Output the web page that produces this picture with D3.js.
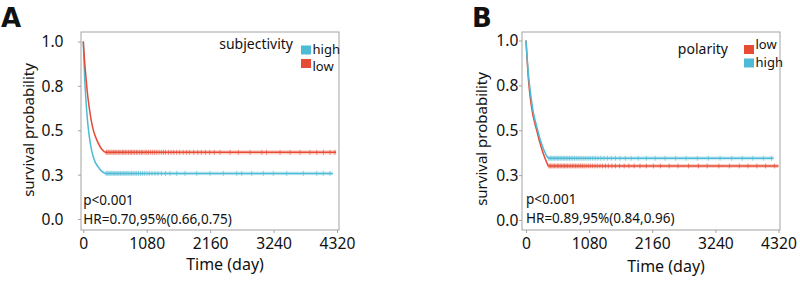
<!DOCTYPE html>
<html>
<head>
<meta charset="utf-8">
<title>Survival curves</title>
<script src="https://d3js.org/d3.v7.min.js"></script>
<style>
body { margin: 0; background: #fff; }
text { font-family: "Noto Sans", sans-serif; fill: #111; }
</style>
</head>
<body>
<script>
// shared axis values
var xTicks = [0, 1080, 2160, 3240, 4320];
var yTicks = [0, 0.25, 0.5, 0.75, 1];
var yTickLabels = ["0.0", "0.3", "0.5", "0.8", "1.0"];

// panel A : subjectivity
var timeA_high = [0, 10, 25, 45, 70, 100, 140, 190, 250, 310, 370, 4250];
var survA_high = [1, 0.9, 0.78, 0.67, 0.56, 0.47, 0.39, 0.33, 0.295, 0.27, 0.257, 0.257];
var timeA_low = [0, 20, 45, 70, 100, 130, 160, 200, 250, 310, 370, 4305];
var survA_low = [1, 0.9, 0.8, 0.71, 0.63, 0.565, 0.515, 0.47, 0.43, 0.395, 0.376, 0.376];
var censorA_high = [390, 415, 438, 460, 485, 510, 535, 558, 585, 610, 635, 660, 688, 712, 740, 765, 795, 822, 850, 880, 910, 940, 975, 1010, 1045, 1085, 1125, 1170, 1220, 1270, 1330, 1400, 1476, 1590, 1732, 1931, 2158, 2385, 2612, 2697, 2868, 3066, 3236, 3464, 3747, 3975, 4087, 4200];
var censorA_low = [395, 420, 440, 468, 490, 515, 540, 560, 590, 612, 640, 668, 690, 715, 742, 770, 798, 820, 850, 875, 905, 930, 960, 990, 1015, 1050, 1080, 1110, 1145, 1180, 1215, 1250, 1290, 1330, 1365, 1400, 1450, 1495, 1540, 1590, 1640, 1700, 1760, 1810, 1880, 1950, 2010, 2080, 2150, 2230, 2330, 2500, 2640, 2840, 3040, 3120, 3350, 3520, 3690, 3860, 3975, 4090, 4200, 4285];
var ciA_high = 0.011, ciA_low = 0.012;
var statsA = ["p<0.001", "HR=0.70,95%(0.66,0.75)"];

// panel B : polarity
var timeB_low = [0, 18, 40, 70, 110, 150, 183, 230, 285, 330, 380, 4320];
var survB_low = [1, 0.9, 0.79, 0.69, 0.6, 0.54, 0.5, 0.44, 0.38, 0.34, 0.301, 0.301];
var timeB_high = [0, 20, 45, 80, 120, 160, 200, 250, 307, 345, 380, 4235];
var survB_high = [1, 0.9, 0.8, 0.7, 0.61, 0.55, 0.5, 0.44, 0.39, 0.362, 0.344, 0.344];
var censorB_low = [395, 418, 442, 465, 490, 512, 538, 560, 585, 610, 636, 660, 685, 710, 738, 765, 792, 820, 848, 876, 905, 935, 965, 995, 1030, 1065, 1100, 1140, 1180, 1220, 1265, 1310, 1360, 1410, 1470, 1530, 1600, 1680, 1760, 1850, 1950, 2060, 2180, 2300, 2450, 2600, 2780, 2950, 3100, 3300, 3480, 3650, 3800, 3950, 4100, 4250];
var censorB_high = [392, 416, 440, 463, 488, 512, 536, 560, 586, 612, 638, 664, 690, 716, 744, 772, 800, 830, 860, 890, 922, 955, 990, 1025, 1062, 1100, 1140, 1185, 1230, 1280, 1335, 1395, 1460, 1530, 1610, 1700, 1800, 1920, 2060, 2210, 2380, 2560, 2740, 2930, 3120, 3320, 3520, 3700, 3880, 4060, 4200];
var ciB_high = 0.011, ciB_low = 0.011;
var statsB = ["p<0.001", "HR=0.89,95%(0.84,0.96)"];

var red = "#E64B35", blue = "#4DBBD5";

var svg = d3.select("body").append("svg")
  .attr("width", 800)
  .attr("height", 283);

function drawPanel(p) {
  var g = svg.append("g");
  var x = d3.scaleLinear().domain([0, 4320]).range([p.x0, p.x1]);
  var y = d3.scaleLinear().domain([0, 1]).range([p.y0, p.y1]);

  // frame
  g.append("rect")
    .attr("x", p.left).attr("y", p.top)
    .attr("width", p.right - p.left).attr("height", p.bottom - p.top)
    .attr("fill", "none").attr("stroke", "#a3a3a3").attr("stroke-width", 1);

  // axes
  var xa = g.append("g")
    .attr("transform", "translate(0," + p.bottom + ")")
    .call(d3.axisBottom(x).tickValues(xTicks).tickSize(3).tickPadding(4).tickFormat(d3.format("d")));
  var ya = g.append("g")
    .attr("transform", "translate(" + p.left + ",0)")
    .call(d3.axisLeft(y).tickValues(yTicks).tickSize(3).tickPadding(p.yPad)
      .tickFormat(function(d, i) { return yTickLabels[i]; }));
  [xa, ya].forEach(function(a) {
    a.select(".domain").remove();
    a.selectAll(".tick line").attr("stroke", "#a3a3a3");
    a.selectAll(".tick text").attr("font-size", "17px").attr("fill", "#111")
      .attr("transform", "scale(0.92,1)")
      .style("font-family", '"Noto Sans", sans-serif');
  });

  g.append("text").attr("x", p.xTitleX).attr("y", p.xTitleY)
    .attr("text-anchor", "middle").attr("font-size", "16px").text("Time (day)");
  g.append("text")
    .attr("transform", "translate(" + p.yTitleX + "," + p.yTitleY + ") rotate(-90)")
    .attr("text-anchor", "middle").attr("font-size", "15px").text("survival probability");

  g.append("text").attr("x", p.tagX).attr("y", 27)
    .attr("font-size", "26px").attr("font-weight", "bold")
    .style("font-family", '"DejaVu Sans", sans-serif').text(p.tag);

  // curves
  p.groups.forEach(function(s) {
    var pts = s.time.map(function(t, i) { return [t, s.surv[i]]; });
    var survAt = d3.scaleLinear().domain(s.time).range(s.surv);
    var n = pts.length;
    var band = d3.area()
      .x(function(d) { return x(d[0]); })
      .y0(function(d) { return y(d[1] - s.ci); })
      .y1(function(d) { return y(d[1] + s.ci); })
      .curve(d3.curveMonotoneX);
    g.append("path").datum(pts.slice(0, n - 1)).attr("d", band)
      .attr("fill", s.color).attr("opacity", 0.12);
    g.append("path").datum(pts.slice(n - 2)).attr("d", band)
      .attr("fill", s.color).attr("opacity", 0.25);
    var line = d3.line()
      .x(function(d) { return x(d[0]); })
      .y(function(d) { return y(d[1]); });
    g.append("path").datum(pts.slice(0, n - 1))
      .attr("d", line.curve(d3.curveMonotoneX))
      .attr("fill", "none").attr("stroke", s.color).attr("stroke-width", 1.5);
    g.append("path").datum(pts.slice(n - 2))
      .attr("d", line.curve(d3.curveLinear))
      .attr("fill", "none").attr("stroke", s.color).attr("stroke-width", 1.5);
    g.selectAll(null).data(s.censor).enter().append("line")
      .attr("x1", function(d) { return x(d); }).attr("x2", function(d) { return x(d); })
      .attr("y1", function(d) { return y(survAt(d)) - 2.5; })
      .attr("y2", function(d) { return y(survAt(d)) + 2.5; })
      .attr("stroke", s.color).attr("stroke-width", 1).attr("opacity", 0.6);
  });

  // legend
  g.append("text").attr("x", p.legTitleX).attr("y", p.legTitleY)
    .attr("text-anchor", "end").attr("font-size", "14px").text(p.legendTitle);
  p.legend.forEach(function(s, i) {
    g.append("rect").attr("x", p.legX).attr("y", p.legY[i])
      .attr("width", 10).attr("height", 9).attr("fill", s.color);
    g.append("text").attr("x", p.legX + 11.5).attr("y", p.legLabelY[i])
      .attr("font-size", "13px").text(s.name);
  });

  // stats
  p.stats.forEach(function(t, i) {
    g.append("text").attr("x", p.x0).attr("y", p.statY[i])
      .attr("font-size", "13.5px").text(t);
  });
}

var highA = { name: "high", color: blue, time: timeA_high, surv: survA_high, censor: censorA_high, ci: ciA_high };
var lowA = { name: "low", color: red, time: timeA_low, surv: survA_low, censor: censorA_low, ci: ciA_low };
var lowB = { name: "low", color: red, time: timeB_low, surv: survB_low, censor: censorB_low, ci: ciB_low };
var highB = { name: "high", color: blue, time: timeB_high, surv: survB_high, censor: censorB_high, ci: ciB_high };

drawPanel({
  tag: "A", tagX: 1,
  left: 81, right: 339, top: 32, bottom: 230,
  x0: 83.3, x1: 337, y0: 219, y1: 41.5, yPad: 16,
  xTitleX: 225, xTitleY: 270, yTitleX: 34, yTitleY: 130,
  groups: [highA, lowA],
  legendTitle: "subjectivity", legTitleX: 293, legTitleY: 48.5,
  legend: [highA, lowA], legX: 301, legY: [45.5, 59], legLabelY: [53.5, 71],
  stats: statsA, statY: [204.5, 223.5]
});

drawPanel({
  tag: "B", tagX: 472,
  left: 522, right: 780, top: 32, bottom: 230,
  x0: 526, x1: 778.5, y0: 220, y1: 40.5, yPad: 1,
  xTitleX: 666, xTitleY: 272, yTitleX: 487, yTitleY: 139,
  groups: [lowB, highB],
  legendTitle: "polarity", legTitleX: 728, legTitleY: 53.5,
  legend: [lowB, highB], legX: 744, legY: [45, 58.5], legLabelY: [48.5, 66.5],
  stats: statsB, statY: [204, 222.5]
});
</script>
</body>
</html>
